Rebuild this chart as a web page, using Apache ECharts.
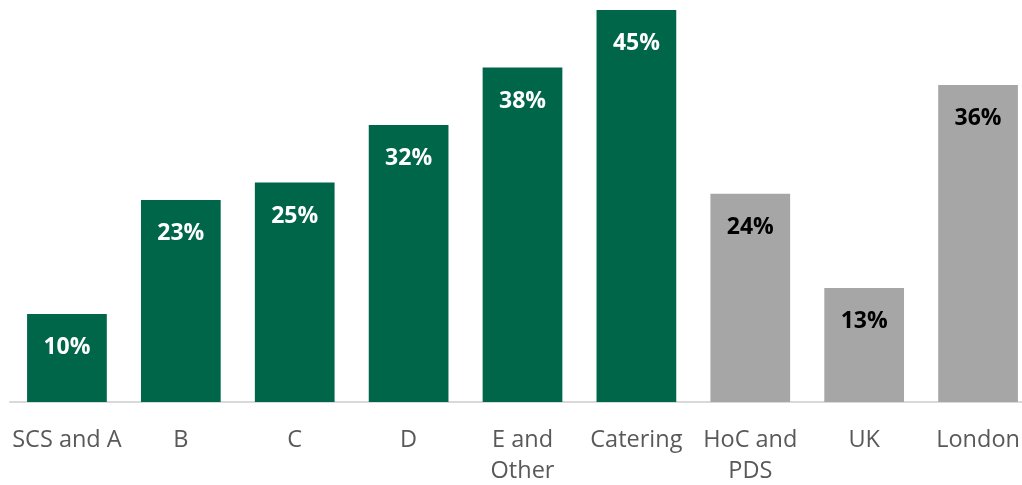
<!DOCTYPE html>
<html><head><meta charset="utf-8">
<script src="https://cdn.jsdelivr.net/npm/echarts@6/dist/echarts.min.js"></script>
<style>html,body{margin:0;padding:0;background:#fff}#c{width:1022px;height:485px}</style>
</head><body><div id="c"></div>
<script>
const categories = ['SCS and A', 'B', 'C', 'D', 'E and\nOther', 'Catering', 'HoC and\nPDS', 'UK', 'London'];
const values = [10.1, 23.2, 25.2, 31.8, 38.4, 45.0, 23.9, 13.1, 36.4];
const isComparison = [false, false, false, false, false, false, true, true, true];

const green = '#00664a', grey = '#a6a6a6';
const chart = echarts.init(document.getElementById('c'));
chart.setOption({
  animation: false,
  grid: { left: 10, right: -13, top: 10, bottom: 83, containLabel: false, outerBoundsMode: 'none' },
  xAxis: {
    type: 'category', data: categories,
    axisLine: { show: true, lineStyle: { color: '#d9d9d9', width: 2 } },
    axisTick: { show: false },
    axisLabel: { color: '#595959', fontFamily: 'Open Sans', fontSize: 23.5, lineHeight: 31, margin: 23, interval: 0 }
  },
  yAxis: { type: 'value', min: 0, max: 45, show: false, splitLine: { show: false } },
  series: [{
    type: 'bar', barCategoryGap: '30%',
    data: values.map((v, i) => ({
      value: v,
      itemStyle: { color: isComparison[i] ? grey : green },
      label: { color: isComparison[i] ? '#000' : '#fff' }
    })),
    label: {
      show: true, position: 'insideTop', distance: 22,
      fontFamily: 'Open Sans', fontWeight: 'bold', fontSize: 23, lineHeight: 23,
      formatter: p => Math.round(p.value) + '%'
    }
  }]
});
</script></body></html>
